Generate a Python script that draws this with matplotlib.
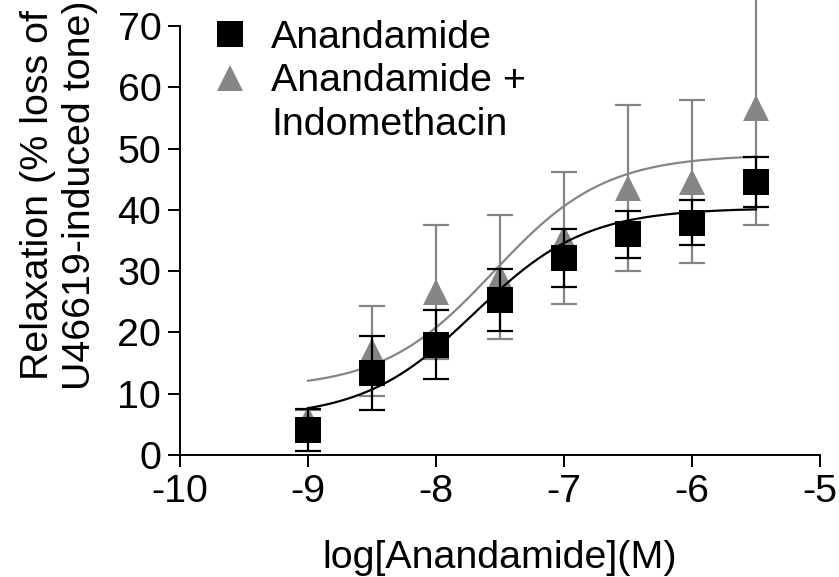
import matplotlib
matplotlib.use("Agg")
import matplotlib.pyplot as plt
import numpy as np
from matplotlib.lines import Line2D

plt.rcParams['font.family'] = ['Liberation Sans', 'DejaVu Sans']
plt.rcParams['axes.unicode_minus'] = False

FONT = 28.4
GREY = '#858585'

# data (mean +/- SEM, % relaxation)
log_conc = [-9, -8.5, -8, -7.5, -7, -6.5, -6, -5.5]
anandamide_mean = [4.1, 13.4, 18.0, 25.3, 32.1, 36.0, 37.9, 44.6]
anandamide_sem = [3.4, 6.0, 5.6, 5.1, 4.7, 3.8, 3.7, 4.1]
indo_mean = [5.8, 17.0, 26.6, 29.1, 35.4, 43.6, 44.6, 56.6]
indo_sem = [1.5, 7.3, 10.9, 10.1, 10.8, 13.5, 13.3, 19.1]

# sigmoidal fits (bottom, top, logEC50), hill slope 1
anandamide_fit = (6.0, 40.3, -7.7)
indo_fit = (10.8, 49.0, -7.55)

x_ticks = [-10, -9, -8, -7, -6, -5]
y_ticks = [0, 10, 20, 30, 40, 50, 60, 70]


def sigmoid(x, bottom, top, logec50):
    return bottom + (top - bottom) / (1 + 10 ** (logec50 - x))


def draw_series(ax, mean, sem, fit, color, marker, z):
    eb = ax.errorbar(log_conc, mean, yerr=sem, fmt='none', ecolor=color,
                     elinewidth=1.6, capsize=9.5, capthick=1.6, zorder=z)
    for art in list(eb.lines[1]) + list(eb.lines[2]):
        art.set_clip_on(False)
    ax.plot(log_conc, mean, ls='none', marker=marker, ms=19, color=color,
            mew=0, zorder=z + 0.2)
    xs = np.linspace(log_conc[0], log_conc[-1], 200)
    ax.plot(xs, sigmoid(xs, *fit), color=color, lw=1.6, zorder=z + 0.5)


fig = plt.figure(figsize=(8.39, 5.77), dpi=100)
ax = fig.add_axes([180 / 839, 1 - 455 / 577, 640 / 839, 429 / 577])

draw_series(ax, indo_mean, indo_sem, indo_fit, GREY, '^', 2)
draw_series(ax, anandamide_mean, anandamide_sem, anandamide_fit, 'black', 's', 4)

ax.set_xlim(-10, -5)
ax.set_ylim(0, 70)
ax.set_xticks(x_ticks)
ax.set_yticks(y_ticks)
ax.tick_params(labelsize=FONT, length=8.5, width=1.4, pad=5)
for side in ['top', 'right']:
    ax.spines[side].set_visible(False)
for side in ['left', 'bottom']:
    ax.spines[side].set_linewidth(1.4)

ax.set_xlabel('log[Anandamide](M)', fontsize=FONT, labelpad=22)
fig.text(59 / 839, 1 - 195 / 577, 'Relaxation (% loss of\nU46619-induced tone)',
         rotation=90, ha='center', va='center', fontsize=FONT, multialignment='center')

handles = [
    Line2D([], [], ls='none', marker='s', ms=19, color='black', mew=0),
    Line2D([], [], ls='none', marker='^', ms=19, color=GREY, mew=0),
    Line2D([], [], ls='none', marker=None),
]
labels = ['Anandamide', 'Anandamide +', 'Indomethacin']
ax.legend(handles, labels, loc='upper left', bbox_to_anchor=(0.048, 1.015),
          frameon=False, fontsize=FONT, handlelength=1.0, handletextpad=0.53,
          labelspacing=0.2, borderpad=0, borderaxespad=0)

fig.savefig('out.png', dpi=100)
